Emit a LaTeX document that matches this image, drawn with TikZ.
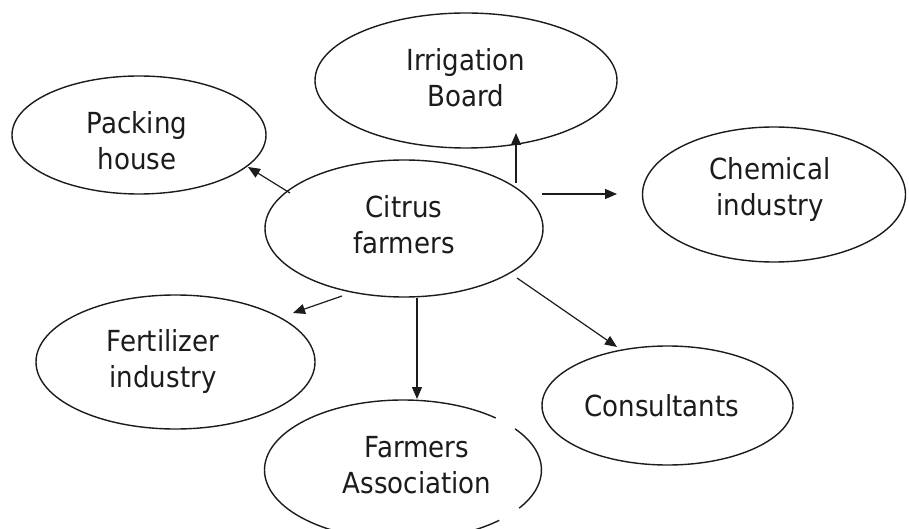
\documentclass[tikz,border=0pt]{standalone}
\usepackage{fontspec}
\setmainfont{DejaVu Sans Condensed}
\usetikzlibrary{shapes.geometric,arrows.meta}
\definecolor{ink}{HTML}{1C1C1C}
\tikzset{
  oval/.style={ellipse, draw=ink, line width=1.4pt, inner sep=0pt},
  txt/.style={align=center, text=ink, inner sep=0pt, font=\fontsize{29}{36}\selectfont},
  conn/.style={draw=ink, line width=1.2pt, -{Triangle[length=12pt,width=10pt]}}
}
\begin{document}
\begin{tikzpicture}[x=1pt,y=-1pt]
\path[use as bounding box, clip] (0,0) rectangle (909,529);
\fill[white] (0,0) rectangle (909,529);
% ellipses
\node[oval, minimum width=302pt, minimum height=135pt] (irr) at (466,80.5) {};
\node[oval, minimum width=254pt, minimum height=118pt] (pack) at (139,135) {};
\node[oval, minimum width=263pt, minimum height=135pt] (chem) at (774,194.5) {};
\node[oval, minimum width=278pt, minimum height=137pt] (cit) at (404,228.5) {};
\node[oval, minimum width=279pt, minimum height=134pt] (fert) at (175.5,362) {};
\node[oval, minimum width=251pt, minimum height=119pt] (cons) at (667.5,405.5) {};
\node[ellipse, inner sep=0pt, minimum width=277pt, minimum height=140pt] (farm) at (403,470) {};
\draw[draw=ink, line width=1.4pt] ([shift={(48:138.5pt and 70pt)}]farm.center) arc[start angle=48, end angle=314, x radius=138.5pt, y radius=70pt];
\draw[draw=ink, line width=1.4pt] ([shift={(-33:138.5pt and 70pt)}]farm.center) arc[start angle=-33, end angle=36, x radius=138.5pt, y radius=70pt];
% texts
\node[txt] (irrT) at (466,78) {Irrigation\\Board};
\node[txt] (packT) at (137,141) {Packing\\house};
\node[txt] (chemT) at (770,190) {Chemical\\industry};
\node[txt] (citT) at (404,225) {Citrus\\farmers};
\node[txt] (fertT) at (163,361) {Fertilizer\\industry};
\node[txt] (consT) at (662,406) {Consultants};
\node[txt] (farmT) at (417,465) {Farmers\\Association};
% connector ends
\coordinate (a1) at (290,193); \coordinate (b1) at (248,167);
\coordinate (a2) at (516,183); \coordinate (b2) at (516,133);
\coordinate (a3) at (542,194); \coordinate (b3) at (617,194);
\coordinate (a4) at (517,278); \coordinate (b4) at (617,347);
\coordinate (a5) at (417,298); \coordinate (b5) at (417,399);
\coordinate (a6) at (342,296); \coordinate (b6) at (293,313);
\draw[conn] (a1) -- (b1);
\draw[conn] (a2) -- (b2);
\draw[conn] (a3) -- (b3);
\draw[conn] (a4) -- (b4);
\draw[conn] (a5) -- (b5);
\draw[conn] (a6) -- (b6);
\end{tikzpicture}
\end{document}
